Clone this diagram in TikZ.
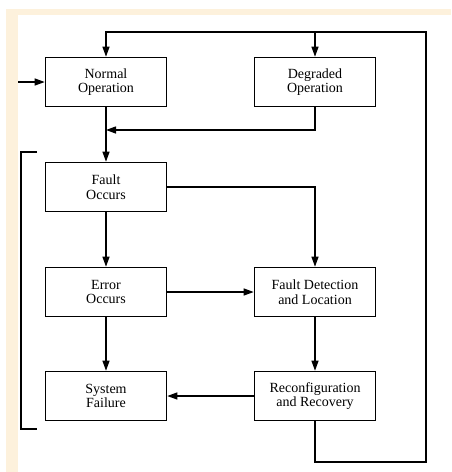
\documentclass[tikz,border=0pt]{standalone}
\usepackage{fontspec}
\setmainfont{Liberation Serif}
\usetikzlibrary{arrows.meta}
\definecolor{paper}{RGB}{253,241,220}

\begin{document}
\begin{tikzpicture}[x=1pt,y=-1pt,
  state/.style={draw,line width=1.6pt,minimum width=121pt,minimum height=49pt,
    align=center,inner sep=0pt,font=\fontsize{14}{14.5}\selectfont},
  flow/.style={line width=1.3pt,-{Triangle[length=10pt,width=7pt]}},
  wire/.style={line width=1.3pt}]
\useasboundingbox (0,0) rectangle (451,472);
\fill [paper] (6,9) rectangle (451,15);
\fill [paper] (6,15) rectangle (18,472);
% the states
\node [state] (normal) at (106,82) {Normal\\Operation};
\node [state] (degraded) at (315,82) {Degraded\\Operation};
\node [state] (fault) at (106,187) {Fault\\Occurs};
\node [state] (error) at (106,292) {Error\\Occurs};
\node [state] (detect) at (315,292) {Fault Detection\\and Location};
\node [state] (failure) at (106,396) {System\\Failure};
\node [state] (recover) at (315,396) {Reconfiguration\\and Recovery};
% free ends
\coordinate (entry) at (18,82);
\coordinate (split) at (315,32);
\coordinate (join) at (106,130);
\coordinate (loopbase) at (315,462);
\coordinate (loopside) at (426,32);
\coordinate (bracetop) at (37,152);
\coordinate (braceleft) at (21,429);
\coordinate (bracebot) at (37,429);
% connectors
\draw [flow] (entry) -- (normal.west);
\draw [flow] (normal) -- (fault);
\draw [flow] (degraded.south) |- (join);
\draw [flow] (fault.east) -| (detect.north);
\draw [flow] (fault) -- (error);
\draw [flow] (error) -- (detect);
\draw [flow] (error) -- (failure);
\draw [flow] (detect) -- (recover);
\draw [flow] (recover) -- (failure);
\draw [flow] (recover.south) -- (loopbase) -| (loopside) -| (normal.north);
\draw [flow] (split) -- (degraded.north);
\draw [wire] (bracetop) -| (braceleft) -- (bracebot);
\end{tikzpicture}
\end{document}
